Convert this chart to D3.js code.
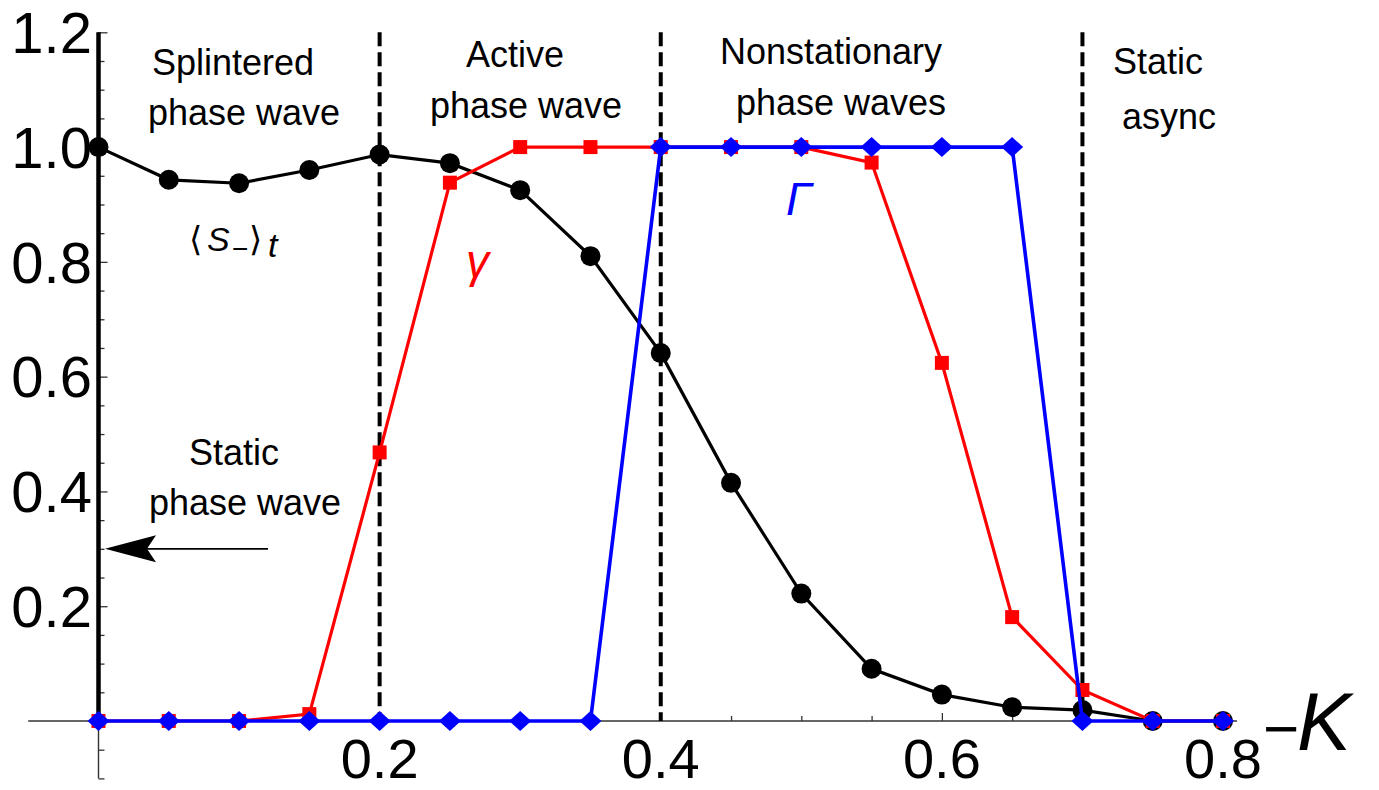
<!DOCTYPE html>
<html>
<head>
<meta charset="utf-8">
<script src="https://cdn.jsdelivr.net/npm/d3@7/dist/d3.min.js"></script>
<style>
  html, body { margin: 0; padding: 0; background: #fff; }
  svg { display: block; }
  text { font-family: "Liberation Sans", Arial, sans-serif; fill: #000; }
</style>
</head>
<body>
<svg id="chart" width="1379" height="790"></svg>
<script>
// Coupling strength -K
const kValues = [0, 0.05, 0.1, 0.15, 0.2, 0.25, 0.3, 0.35, 0.4, 0.45, 0.5, 0.55, 0.6, 0.65, 0.7, 0.75, 0.8];
// time-averaged <S_->
const sMinus = [1.0, 0.943, 0.937, 0.96, 0.987, 0.972, 0.925, 0.81, 0.641, 0.415, 0.222, 0.091, 0.046, 0.024, 0.019, 0, 0];
// gamma
const gammaSeries = [0, 0, 0, 0.012, 0.468, 0.938, 1.0, 1.0, 1.0, 1.0, 1.0, 0.973, 0.624, 0.181, 0.054, 0, 0];
// Gamma
const bigGammaSeries = [0, 0, 0, 0, 0, 0, 0, 0, 1.0, 1.0, 1.0, 1.0, 1.0, 1.0, 0, 0, 0];
// regime boundaries
const boundaries = [0.2, 0.4, 0.7];
const xTickLabels = [0.2, 0.4, 0.6, 0.8];
const yTickLabels = [0.2, 0.4, 0.6, 0.8, 1.0, 1.2];

const svg = d3.select("#chart");
const x = d3.scaleLinear().domain([0, 0.8]).range([98.5, 1223]);
const y = d3.scaleLinear().domain([0, 1.2]).range([721, 32.3]);

const axisG = svg.append("g");

// x axis line and ticks (pointing up)
axisG.append("line")
  .attr("x1", x(-0.05)).attr("x2", x(0.81))
  .attr("y1", y(0)).attr("y2", y(0))
  .attr("stroke", "#333").attr("stroke-width", 1.4);

const xMinor = d3.range(1, 17).map(i => i * 0.05).filter(v => xTickLabels.every(m => Math.abs(m - v) > 1e-9));
const xMinorAxis = d3.axisTop(x).tickValues(xMinor).tickSize(5).tickFormat("").tickSizeOuter(0);
const xMajorAxis = d3.axisTop(x).tickValues(xTickLabels).tickSize(8).tickFormat("").tickSizeOuter(0);
[xMinorAxis, xMajorAxis].forEach(ax => {
  const g = axisG.append("g").attr("transform", `translate(0,${y(0)})`).call(ax);
  g.select(".domain").remove();
  g.selectAll(".tick line").attr("stroke", "#333").attr("stroke-width", 1.3);
});

// y axis line and ticks (pointing right)
axisG.append("line")
  .attr("x1", x(0)).attr("x2", x(0))
  .attr("y1", y(-0.1)).attr("y2", y(1.2))
  .attr("stroke", "#333").attr("stroke-width", 1.4);

const yAll = d3.range(-2, 25).map(i => +(i * 0.05).toFixed(2));
const yMinor = yAll.filter(v => yTickLabels.every(m => Math.abs(m - v) > 1e-9));
const yMinorAxis = d3.axisRight(y).tickValues(yMinor).tickSize(6).tickFormat("").tickSizeOuter(0);
const yMajorAxis = d3.axisRight(y).tickValues(yTickLabels).tickSize(9).tickFormat("").tickSizeOuter(0);
[yMinorAxis, yMajorAxis].forEach(ax => {
  const g = axisG.append("g").attr("transform", `translate(${x(0)},0)`).call(ax);
  g.select(".domain").remove();
  g.selectAll(".tick line").attr("stroke", "#333").attr("stroke-width", 1.3);
});

// tick labels
axisG.selectAll("text.xl").data(xTickLabels).join("text")
  .attr("class", "xl")
  .attr("x", d => x(d)).attr("y", 778)
  .attr("text-anchor", "middle")
  .attr("font-size", 56)
  .text(d => d.toFixed(1));

axisG.selectAll("text.yl").data(yTickLabels).join("text")
  .attr("class", "yl")
  .attr("x", 92).attr("y", d => y(d) + 20.8)
  .attr("text-anchor", "end")
  .attr("font-size", 58)
  .text(d => d.toFixed(1));

// -K axis label
const kLabel = svg.append("text").attr("x", 1263).attr("y", 750);
kLabel.append("tspan").attr("font-size", 62).text("\u2212");
kLabel.append("tspan").attr("x", 1297).attr("font-size", 81).attr("font-style", "italic").text("K");

// thick boundary at K = 0
svg.append("line")
  .attr("x1", x(0)).attr("x2", x(0))
  .attr("y1", y(0)).attr("y2", y(1.2))
  .attr("stroke", "#000").attr("stroke-width", 4.5);

// dashed regime boundaries
svg.selectAll("line.bd").data(boundaries).join("line")
  .attr("class", "bd")
  .attr("x1", d => x(d)).attr("x2", d => x(d))
  .attr("y1", y(1.2)).attr("y2", y(0))
  .attr("stroke", "#000").attr("stroke-width", 4)
  .attr("stroke-dasharray", "14,6");

// regime annotations
const notes = [
  { t: "Splintered", x: 233, y: 75 },
  { t: "phase wave", x: 244, y: 125 },
  { t: "Active", x: 515, y: 67 },
  { t: "phase wave", x: 526, y: 118 },
  { t: "Nonstationary", x: 831, y: 64 },
  { t: "phase waves", x: 841, y: 115 },
  { t: "Static", x: 1158, y: 74 },
  { t: "async", x: 1169, y: 129 },
  { t: "Static", x: 234, y: 465 },
  { t: "phase wave", x: 245, y: 515 }
];
svg.selectAll("text.note").data(notes).join("text")
  .attr("class", "note")
  .attr("x", d => d.x).attr("y", d => d.y)
  .attr("text-anchor", "middle")
  .attr("font-size", 36)
  .text(d => d.t);

// arrow pointing to K = 0
const ay = y(0.3);
svg.append("line")
  .attr("x1", 268).attr("x2", 140)
  .attr("y1", ay).attr("y2", ay)
  .attr("stroke", "#000").attr("stroke-width", 1.7);
svg.append("path")
  .attr("d", `M105,${ay} L156,${ay - 13.5} L147,${ay} L156,${ay + 13.5} Z`)
  .attr("fill", "#000");

// series
const line = d3.line().x(d => x(d[0])).y(d => y(d[1]));
const pts = vals => kValues.map((k, i) => [k, vals[i]]);

const sPts = pts(sMinus), gPts = pts(gammaSeries), GPts = pts(bigGammaSeries);

// <S_->_t : black circles
svg.append("path").attr("d", line(sPts))
  .attr("fill", "none").attr("stroke", "#000").attr("stroke-width", 3.2);
svg.selectAll("circle.s").data(sPts).join("circle")
  .attr("class", "s")
  .attr("cx", d => x(d[0])).attr("cy", d => y(d[1])).attr("r", 10)
  .attr("fill", "#000");

// gamma : red squares
svg.append("path").attr("d", line(gPts))
  .attr("fill", "none").attr("stroke", "#ff0000").attr("stroke-width", 3.2);
svg.selectAll("rect.g").data(gPts).join("rect")
  .attr("class", "g")
  .attr("x", d => x(d[0]) - 7).attr("y", d => y(d[1]) - 7)
  .attr("width", 14).attr("height", 14)
  .attr("fill", "#ff0000");

// Gamma : blue diamonds
svg.append("path").attr("d", line(GPts))
  .attr("fill", "none").attr("stroke", "#0000ff").attr("stroke-width", 3.6);
svg.selectAll("path.G").data(GPts).join("path")
  .attr("class", "G")
  .attr("d", d => {
    const cx = x(d[0]), cy = y(d[1]);
    return `M${cx - 11},${cy} L${cx},${cy - 10} L${cx + 11},${cy} L${cx},${cy + 10} Z`;
  })
  .attr("fill", "#0000ff");

// series labels: <S_->_t built glyph by glyph
const sLab = svg.append("text").attr("y", 251).attr("font-size", 34);
sLab.append("tspan").attr("x", 189).attr("font-family", "'DejaVu Sans', sans-serif").text("\u27E8");
sLab.append("tspan").attr("x", 207).attr("font-style", "italic").text("S");
sLab.append("tspan").attr("x", 232).attr("y", 258).attr("font-size", 28).text("\u2212");
sLab.append("tspan").attr("x", 249).attr("y", 251).attr("font-family", "'DejaVu Sans', sans-serif").text("\u27E9");
sLab.append("tspan").attr("x", 268).attr("y", 257).attr("font-style", "italic").text("t");

svg.append("text").attr("x", 466).attr("y", 277)
  .attr("font-size", 46).attr("font-style", "italic")
  .style("fill", "#ff0000").text("\u03B3");
svg.append("text").attr("x", 786).attr("y", 215)
  .attr("font-size", 46).attr("font-style", "italic")
  .style("fill", "#0000ff").text("\u0393");
</script>
</body>
</html>
